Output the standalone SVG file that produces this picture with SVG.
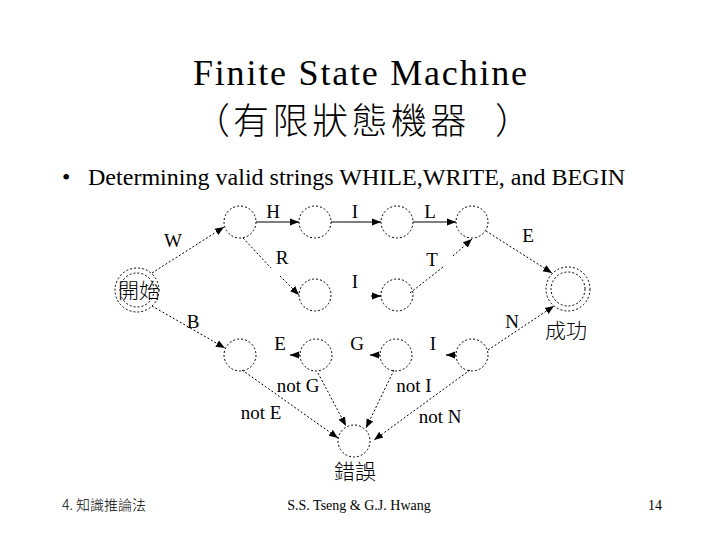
<svg xmlns="http://www.w3.org/2000/svg" width="720" height="540" viewBox="0 0 720 540">
<style>
.t{font-family:"Liberation Serif","DejaVu Serif",serif;fill:#000}
.c{font-family:"Noto Sans CJK TC","Noto Sans CJK SC",sans-serif;fill:#000;font-weight:300}
.n{fill:none;stroke:#000;stroke-width:1;stroke-dasharray:2 2}
.e{fill:none;stroke:#000;stroke-width:1;stroke-dasharray:2 2}
.s{fill:none;stroke:#000;stroke-width:1.2}
</style>
<defs>
<marker id="a" viewBox="0 0 10 10" refX="10" refY="5" markerWidth="9" markerHeight="9" markerUnits="userSpaceOnUse" orient="auto">
<path d="M0,1 L10,5 L0,9 Z" fill="#000"/>
</marker>
</defs>
<rect width="720" height="540" fill="#fff"/>
<text class="t" x="193" y="85" font-size="36" textLength="334" lengthAdjust="spacing">Finite State Machine</text>
<text class="c" x="194 233 272.5 312 351.5 391 430.5 495" y="134" font-size="36">（有限狀態機器）</text>
<text class="t" x="62" y="185" font-size="24">•</text>
<text class="t" x="88" y="185" font-size="24" textLength="537" lengthAdjust="spacingAndGlyphs">Determining valid strings WHILE,WRITE, and BEGIN</text>

<g id="connectors">
<line class="e" x1="152" y1="273" x2="224" y2="227" marker-end="url(#a)"/>
<line class="s" x1="256" y1="222" x2="299" y2="222" marker-end="url(#a)"/>
<line class="s" x1="331" y1="222" x2="381" y2="222" marker-end="url(#a)"/>
<line class="s" x1="413" y1="222" x2="456" y2="222" marker-end="url(#a)"/>
<line class="e" x1="243" y1="238" x2="271" y2="268"/>
<line class="e" x1="280" y1="276" x2="299" y2="295" marker-end="url(#a)"/>
<line class="s" x1="371" y1="296" x2="381" y2="296" marker-end="url(#a)" stroke="none"/>
<line class="e" x1="410" y1="293" x2="443" y2="267"/>
<line class="e" x1="453" y1="256" x2="472" y2="239" marker-end="url(#a)"/>
<line class="e" x1="486" y1="231" x2="552" y2="273" marker-end="url(#a)"/>
<line class="e" x1="152" y1="306" x2="225" y2="348" marker-end="url(#a)"/>
<line class="s" x1="300" y1="355" x2="290" y2="355" marker-end="url(#a)" stroke="none"/>
<line class="s" x1="380" y1="355" x2="370" y2="355" marker-end="url(#a)" stroke="none"/>
<line class="s" x1="456" y1="355" x2="446" y2="355" marker-end="url(#a)" stroke="none"/>
<line class="e" x1="242" y1="370" x2="338" y2="438" marker-end="url(#a)"/>
<line class="e" x1="318" y1="373" x2="346" y2="426" marker-end="url(#a)"/>
<line class="e" x1="394" y1="370" x2="366" y2="428" marker-end="url(#a)"/>
<line class="e" x1="470" y1="370" x2="374" y2="440" marker-end="url(#a)"/>
<line class="e" x1="488" y1="350" x2="554" y2="306" marker-end="url(#a)"/>
</g>

<g id="start"><circle class="n" cx="137" cy="290" r="22"/><circle class="n" cx="137" cy="290" r="17"/><text class="c" x="139" y="298" font-size="21" text-anchor="middle">開始</text></g>
<g id="q1"><circle class="n" cx="240" cy="222" r="16"/></g>
<g id="q2"><circle class="n" cx="315" cy="222" r="16"/></g>
<g id="q3"><circle class="n" cx="397" cy="222" r="16"/></g>
<g id="q4"><circle class="n" cx="472" cy="222" r="16"/></g>
<g id="q5"><circle class="n" cx="315" cy="295" r="16"/></g>
<g id="q6"><circle class="n" cx="397" cy="295" r="16"/></g>
<g id="q7"><circle class="n" cx="240" cy="355" r="16"/></g>
<g id="q8"><circle class="n" cx="316" cy="355" r="16"/></g>
<g id="q9"><circle class="n" cx="396" cy="355" r="16"/></g>
<g id="q10"><circle class="n" cx="472" cy="355" r="16"/></g>
<g id="success"><circle class="n" cx="568" cy="289" r="22"/><circle class="n" cx="568" cy="289" r="17"/><text class="c" x="566" y="338" font-size="21" text-anchor="middle">成功</text></g>
<g id="error"><circle class="n" cx="354" cy="441" r="16"/><text class="c" x="355" y="479" font-size="21" text-anchor="middle">錯誤</text></g>

<g id="labels" font-size="19">
<text class="t" x="273" y="218" text-anchor="middle">H</text>
<text class="t" x="355" y="218" text-anchor="middle">I</text>
<text class="t" x="430" y="218" text-anchor="middle">L</text>
<text class="t" x="173" y="247" text-anchor="middle">W</text>
<text class="t" x="282" y="264" text-anchor="middle">R</text>
<text class="t" x="528" y="242" text-anchor="middle">E</text>
<text class="t" x="432" y="266" text-anchor="middle">T</text>
<text class="t" x="355" y="288" text-anchor="middle">I</text>
<text class="t" x="193" y="328" text-anchor="middle">B</text>
<text class="t" x="512" y="328" text-anchor="middle">N</text>
<text class="t" x="280" y="350" text-anchor="middle">E</text>
<text class="t" x="357" y="350" text-anchor="middle">G</text>
<text class="t" x="433" y="350" text-anchor="middle">I</text>
<text class="t" x="298" y="392" text-anchor="middle">not G</text>
<text class="t" x="414" y="392" text-anchor="middle">not I</text>
<text class="t" x="261" y="419" text-anchor="middle">not E</text>
<text class="t" x="440" y="423" text-anchor="middle">not N</text>
</g>

<text class="c" x="62" y="510" font-size="14">4. 知識推論法</text>
<text class="t" x="359" y="510" font-size="14" text-anchor="middle">S.S. Tseng &amp; G.J. Hwang</text>
<text class="t" x="655" y="510" font-size="14" text-anchor="middle">14</text>
</svg>
